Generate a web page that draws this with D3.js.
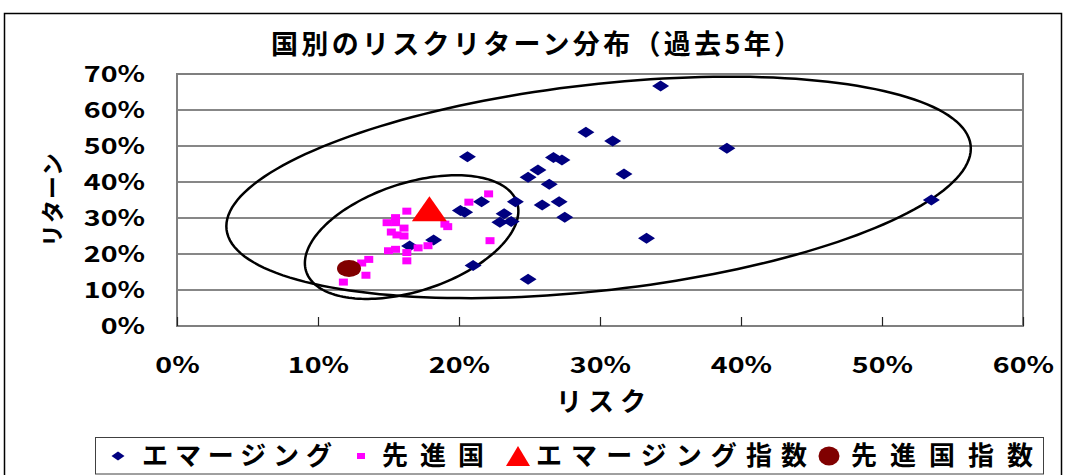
<!DOCTYPE html>
<html>
<head>
<meta charset="utf-8">
<script src="https://cdn.jsdelivr.net/npm/d3@7"></script>
<style>
  html, body { margin: 0; padding: 0; background: #fff; }
  svg { display: block; }
  text { font-family: "Noto Sans CJK JP", "Noto Sans", sans-serif; fill: #000; }
</style>
</head>
<body>
<svg id="chart" width="1066" height="475"></svg>
<script>
// Risk (%) and 5-year return (%) by country
const emerging = [
  [34.3, 66.7], [29.0, 53.8], [30.9, 51.4], [39.0, 49.4], [20.6, 47.0],
  [26.7, 46.8], [27.3, 46.1], [25.6, 43.3], [24.9, 41.3], [31.7, 42.2],
  [26.4, 39.4], [21.6, 34.5], [24.0, 34.5], [27.1, 34.5], [25.9, 33.6],
  [20.1, 32.1], [20.4, 31.6], [23.2, 31.2], [22.9, 28.8], [23.7, 29.0],
  [27.5, 30.2], [33.3, 24.4], [21.0, 16.8], [24.9, 13.0], [53.5, 35.0],
  [18.2, 23.9], [16.5, 22.2]
];
const developed = [
  [16.3, 31.9], [15.5, 30.1], [14.9, 28.7], [15.5, 28.7], [16.1, 27.2],
  [15.2, 26.1], [15.6, 25.3], [16.1, 25.0], [15.0, 20.9], [15.5, 21.3],
  [16.3, 20.4], [16.3, 18.1], [17.1, 21.7], [17.8, 22.3], [19.0, 28.3],
  [19.2, 27.6], [13.6, 18.5], [13.1, 17.5], [13.4, 14.1], [11.8, 12.2],
  [20.7, 34.4], [22.1, 36.7], [22.2, 23.7]
];
const emergingIndex = [17.9, 32.6];
const developedIndex = [12.2, 16.0];

// Enclosing ellipses: centre plus two conjugate semi-axis vectors, in data units
const ellipseCentres = [[29.9, 38.5], [16.64, 24.7]];
const ellipseAxisU = [[26.4, 10.8], [7.57, 7.22]];
const ellipseAxisV = [[0, 28.8], [0, 15.58]];

const xTicks = [0, 10, 20, 30, 40, 50, 60];
const yTicks = [0, 10, 20, 30, 40, 50, 60, 70];
const title = "国別のリスクリターン分布（過去5年）";
const xTitle = "リスク";
const yTitle = "リターン";
const legendLabels = ["エマージング", "先進国", "エマージング指数", "先進国指数"];

const svg = d3.select("#chart");
const x = d3.scaleLinear().domain([0, 60]).range([177, 1023]);
const y = d3.scaleLinear().domain([0, 70]).range([326, 74]);
const pct = d => d + "%";

// outer chart frame
svg.append("rect")
  .attr("x", 4.5).attr("y", 13.5).attr("width", 1057).attr("height", 470)
  .attr("fill", "#fff").attr("stroke", "#000").attr("stroke-width", 1.5);

// title
svg.append("text")
  .attr("x", 271).attr("y", 54)
  .attr("font-size", 27).attr("font-weight", 700)
  .attr("textLength", 530).attr("lengthAdjust", "spacing")
  .text(title);

// gridlines
svg.append("g").selectAll("line")
  .data(yTicks.slice(1, -1))
  .join("line")
  .attr("x1", x(0)).attr("x2", x(60))
  .attr("y1", d => y(d)).attr("y2", d => y(d))
  .attr("stroke", "#111").attr("stroke-width", 1.2);

// plot border
svg.append("rect")
  .attr("x", x(0)).attr("y", y(70))
  .attr("width", x(60) - x(0)).attr("height", y(0) - y(70))
  .attr("fill", "none").attr("stroke", "#7f7f7f").attr("stroke-width", 2);

// x axis: short inward ticks and labels
const xAxis = svg.append("g")
  .attr("transform", `translate(0,${y(0)})`)
  .call(d3.axisBottom(x).tickValues(xTicks).tickFormat(pct).tickSize(-9).tickPadding(0).tickSizeOuter(0));
xAxis.select(".domain").remove();
xAxis.selectAll(".tick line").attr("stroke", "#222").attr("stroke-width", 1.2);
xAxis.selectAll(".tick text")
  .attr("y", 47).attr("dy", null)
  .attr("font-size", 22).attr("font-weight", 700)
  .attr("font-family", "'Noto Sans CJK JP', sans-serif")
  .attr("transform", "scale(1.3,1)");

// y axis labels
const yAxis = svg.append("g")
  .attr("transform", `translate(${x(0)},0)`)
  .call(d3.axisLeft(y).tickValues(yTicks).tickFormat(pct).tickSize(0).tickPadding(24.6));
yAxis.select(".domain").remove();
yAxis.selectAll(".tick text")
  .attr("dy", "0.36em")
  .attr("font-size", 22).attr("font-weight", 700)
  .attr("font-family", "'Noto Sans CJK JP', sans-serif")
  .attr("transform", "scale(1.3,1)");

// axis titles
svg.append("text")
  .attr("x", 556).attr("y", 411)
  .attr("font-size", 26).attr("font-weight", 700)
  .attr("textLength", 90).attr("lengthAdjust", "spacing")
  .text(xTitle);
svg.append("text")
  .attr("transform", `translate(61,${(y(0) + y(70)) / 2}) rotate(-90)`)
  .attr("x", -47).attr("y", 0)
  .attr("font-size", 23).attr("font-weight", 700)
  .attr("textLength", 94).attr("lengthAdjust", "spacing")
  .text(yTitle);

// ellipses
const ellipsePath = (c, u, v) => {
  const pts = d3.range(0, 361, 2).map(a => {
    const t = a * Math.PI / 180;
    return [x(c[0] + u[0] * Math.cos(t) + v[0] * Math.sin(t)),
            y(c[1] + u[1] * Math.cos(t) + v[1] * Math.sin(t))];
  });
  return d3.line().curve(d3.curveLinearClosed)(pts);
};
svg.append("g").selectAll("path")
  .data(ellipseCentres)
  .join("path")
  .attr("d", (c, i) => ellipsePath(c, ellipseAxisU[i], ellipseAxisV[i]))
  .attr("fill", "none").attr("stroke", "#000").attr("stroke-width", 2.5);

// marker shapes (width, height)
const diamond = (w, h) => `M0,${-h / 2}L${w / 2},0L0,${h / 2}L${-w / 2},0Z`;
const square = (w, h) => `M${-w / 2},${-h / 2}h${w}v${h}h${-w}Z`;
const triangle = (w, h) => `M0,${-h / 2}L${w / 2},${h / 2}L${-w / 2},${h / 2}Z`;

// emerging markets
svg.append("g").selectAll("path")
  .data(emerging)
  .join("path")
  .attr("transform", d => `translate(${x(d[0])},${y(d[1])})`)
  .attr("d", diamond(17, 11))
  .attr("fill", "#000080");

// developed markets
svg.append("g").selectAll("path")
  .data(developed)
  .join("path")
  .attr("transform", d => `translate(${x(d[0])},${y(d[1])})`)
  .attr("d", square(9, 7))
  .attr("fill", "#ff00ff");

// indices
svg.append("path")
  .attr("transform", `translate(${x(emergingIndex[0])},${y(emergingIndex[1])})`)
  .attr("d", triangle(35, 25))
  .attr("fill", "#ff0000");
svg.append("ellipse")
  .attr("cx", x(developedIndex[0])).attr("cy", y(developedIndex[1]))
  .attr("rx", 12).attr("ry", 8.5)
  .attr("fill", "#800000");

// legend
const legend = svg.append("g");
legend.append("rect")
  .attr("x", 95.5).attr("y", 437.5).attr("width", 948).attr("height", 36.5)
  .attr("fill", "#fff").attr("stroke", "#404040").attr("stroke-width", 1);
const legendMarkX = [118, 361, 518, 829];
const legendTextX = [142, 382, 536, 851];
const legendTextW = [190, 102, 271, 182];
const ly = 456;
legend.append("path").attr("transform", `translate(${legendMarkX[0]},${ly})`)
  .attr("d", diamond(13, 9)).attr("fill", "#000080");
legend.append("path").attr("transform", `translate(${legendMarkX[1]},${ly})`)
  .attr("d", square(8, 6)).attr("fill", "#ff00ff");
legend.append("path").attr("transform", `translate(${legendMarkX[2]},${ly})`)
  .attr("d", triangle(24, 20)).attr("fill", "#ff0000");
legend.append("ellipse").attr("cx", legendMarkX[3]).attr("cy", ly)
  .attr("rx", 10.5).attr("ry", 9.5).attr("fill", "#800000");
legend.selectAll("text")
  .data(legendLabels)
  .join("text")
  .attr("x", (d, i) => legendTextX[i]).attr("y", 465)
  .attr("font-size", 26).attr("font-weight", 700)
  .attr("textLength", (d, i) => legendTextW[i]).attr("lengthAdjust", "spacing")
  .text(d => d);
</script>
</body>
</html>
